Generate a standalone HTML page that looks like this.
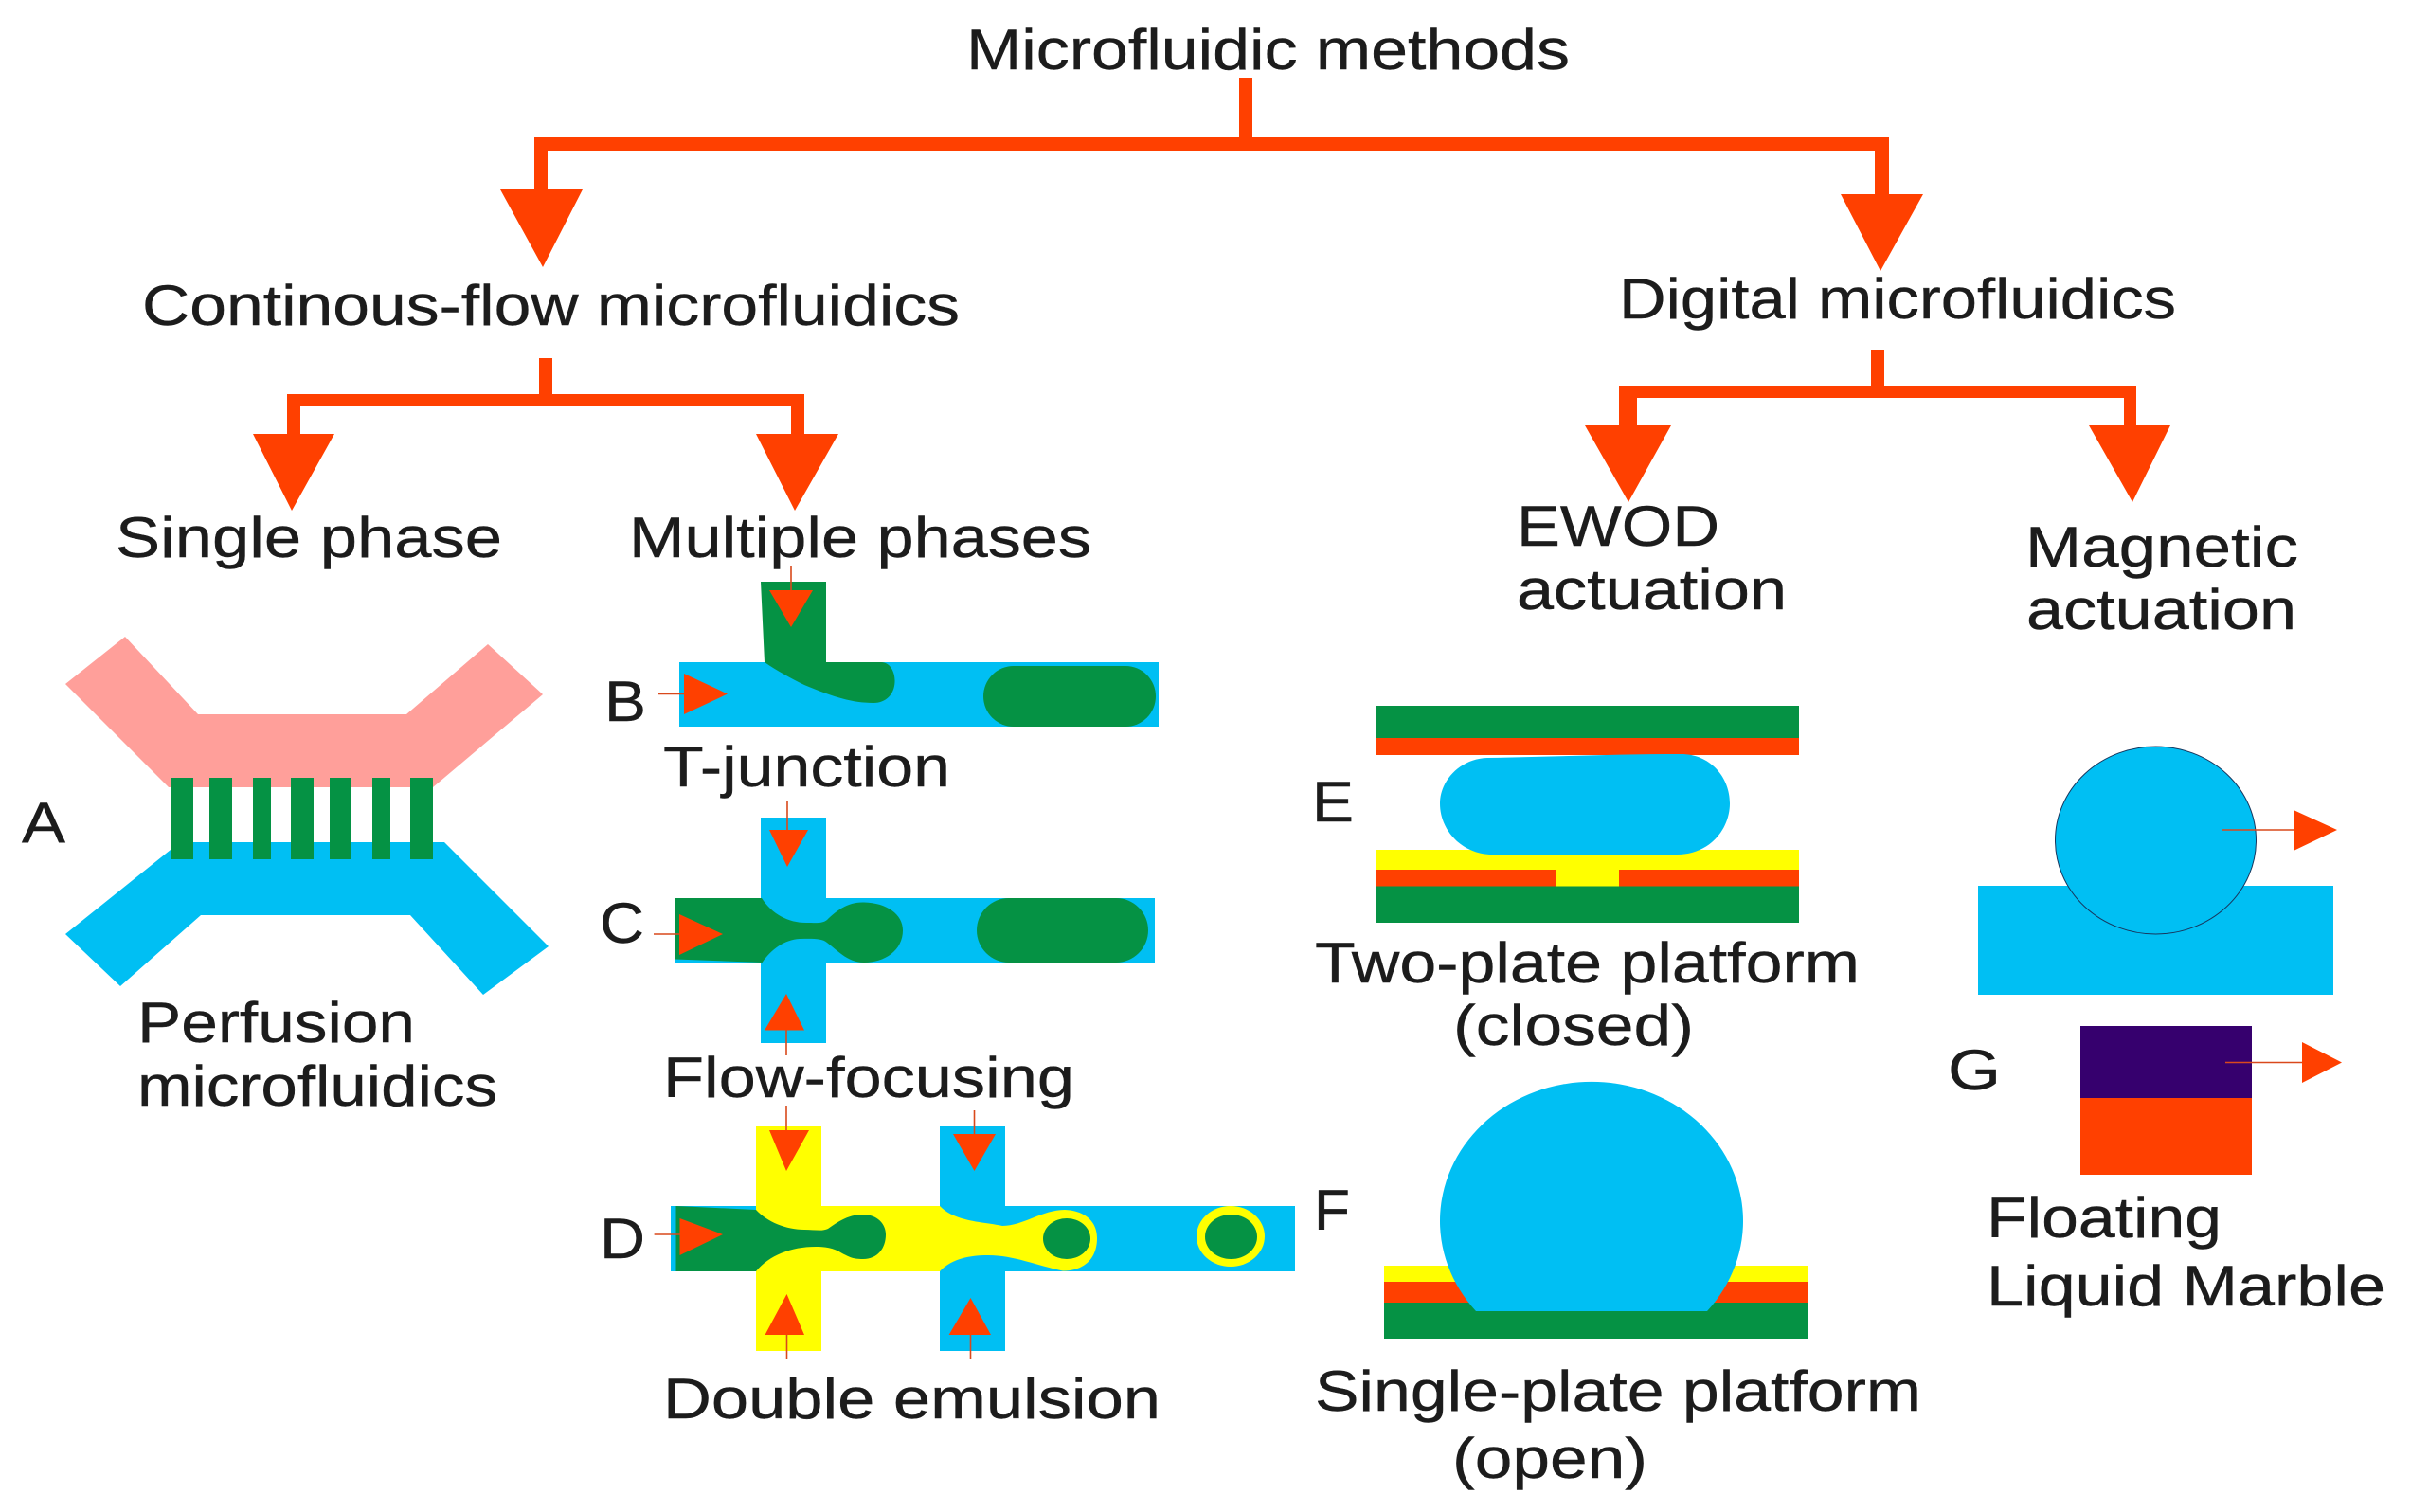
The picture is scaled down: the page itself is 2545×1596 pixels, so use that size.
<!DOCTYPE html>
<html><head><meta charset="utf-8"><title>Microfluidic methods</title>
<style>html,body{margin:0;padding:0;background:#fff}svg{display:block}
text{font-family:"Liberation Sans",Arial,sans-serif;font-size:60px;fill:#1c1c1c;stroke:#1c1c1c;stroke-width:.4px}
.o{fill:#ff4000}.b{fill:#00bff3}.g{fill:#059244}.y{fill:#ffff00}
.l{stroke:#d9491c;stroke-width:1.6;fill:none}</style></head><body>
<svg xmlns="http://www.w3.org/2000/svg" width="2545" height="1596" viewBox="0 0 2545 1596">
<rect width="2545" height="1596" fill="#fff"/>

<!-- tree connectors -->
<g class="o">
<path d="M1308 82H1322V145H1994V205H2030L1985 286L1943 205H1979V159H578V200H615L573 282L528 200H564V145H1308Z"/>
<path d="M569 378H583V416H849V458H885L839 539L798 458H835V429H317V458H353L308 539L267 458H303V416H569Z"/>
<path d="M1975 369H1989V407H2255V449H2291L2251 530L2205 449H2242V420H1728V449H1764L1719 530L1673 449H1709V407H1975Z"/>
</g>

<!-- A -->
<polygon fill="#ff9f9a" points="132,672 209,754 429,754 515,680 573,733 457,831 178,831 69,722"/>
<polygon class="b" points="69,986 180,897 192,889 469,889 579,999 510,1050 433,966 212,966 127,1041"/>
<g class="g"><rect x="181" y="821" width="23" height="86"/><rect x="221" y="821" width="24" height="86"/><rect x="267" y="821" width="19" height="86"/><rect x="307" y="821" width="24" height="86"/><rect x="348" y="821" width="23" height="86"/><rect x="393" y="821" width="19" height="86"/><rect x="433" y="821" width="24" height="86"/></g>

<!-- B -->
<rect class="b" x="717" y="699" width="506" height="68"/>
<path class="g" d="M803 614H872V699H930C940 699 945 710 944.5 720C944 733 935 742 922 742C900 742 880 736 849 723C835 716 820 708 807 699Z"/>
<rect class="g" x="1038" y="703" width="182" height="64" rx="32"/>
<path class="l" d="M835 597V623M695 732.5H722"/>
<polygon class="o" points="812,623 858,623 835,662"/>
<polygon class="o" points="722,711 768,732.5 722,754"/>

<!-- C -->
<rect class="b" x="713" y="948" width="506" height="68"/>
<rect class="b" x="803" y="863" width="69" height="238"/>
<path class="g" d="M713 948H804C815 965 832 974 851 974C862 974 868 975 873 971C884 960 896 952 912 952.5C936 953 953 965 953 982C953 1003 934 1016 912 1016C895 1016 885 1004 873 995C867 990 856 991 844 991C828 992 814 1002 804.5 1016L713 1012.5Z"/>
<rect class="g" x="1031" y="948" width="181" height="68" rx="34"/>
<path class="l" d="M831 846V876M690 986H717M830 1087V1114"/>
<polygon class="o" points="812,876 853,876 831,915"/>
<polygon class="o" points="717,965 763,986 717,1008"/>
<polygon class="o" points="807,1087.5 849,1087.5 830,1049"/>

<!-- D -->
<rect class="b" x="708" y="1273" width="659" height="69"/>
<rect class="y" x="798" y="1189" width="69" height="237"/>
<rect class="y" x="798" y="1273" width="200" height="69"/>
<rect class="b" x="992" y="1189" width="69" height="237"/>
<path class="y" d="M992 1273C1008 1290 1040 1290 1058 1294C1080 1294 1100 1277 1124 1277C1146 1278 1158 1290 1158 1307C1158 1328 1145 1341.5 1122 1341.5C1095 1336 1070 1325 1043 1325C1020 1325 1003 1330 992 1342Z"/>
<path class="g" d="M713.5 1273L798 1277C810 1290 830 1298 849 1298C860 1298 868 1300 874 1297C884 1290 895 1282 911 1282C926 1282 935 1292 935 1303C935 1318 926 1329 911 1329C900 1329 897 1327 889 1323C880 1317 870 1316 861 1316C835 1316 812 1325 798 1342H713.5Z"/>
<ellipse class="g" cx="1126" cy="1307.5" rx="25" ry="21.5"/>
<ellipse class="y" cx="1299" cy="1305" rx="36" ry="32"/>
<ellipse class="g" cx="1299.5" cy="1305.5" rx="27.5" ry="23.5"/>
<path class="l" d="M830 1167V1193M1028.5 1172V1197M690.6 1303H717.5M830.5 1409V1434M1024.5 1409V1434"/>
<polygon class="o" points="812,1193 854,1193 830,1236"/>
<polygon class="o" points="1006,1197 1051,1197 1028.5,1236"/>
<polygon class="o" points="717.5,1286 763,1303 717.5,1325"/>
<polygon class="o" points="807.5,1409 849,1409 830.5,1366"/>
<polygon class="o" points="1001.6,1409 1046,1409 1024.5,1370"/>

<!-- E -->
<rect class="g" x="1452" y="745" width="447" height="34"/>
<rect class="o" x="1452" y="779" width="447" height="18"/>
<rect class="y" x="1452" y="897" width="447" height="39"/>
<rect class="o" x="1452" y="918" width="190" height="18"/>
<rect class="o" x="1709" y="918" width="190" height="18"/>
<rect class="g" x="1452" y="935.5" width="447" height="38.5"/>
<path class="b" d="M1570 800C1640 799 1700 796 1775 796C1805 796 1826 820 1826 848C1826 875 1805 902 1770 902H1575C1545 902 1520 878 1520 848C1520 825 1540 801 1570 800Z"/>

<!-- F -->
<rect class="y" x="1461" y="1336" width="447" height="17"/>
<rect class="o" x="1461" y="1353" width="447" height="22"/>
<rect class="g" x="1461" y="1375" width="447" height="38"/>
<path class="b" d="M1558 1384A160 147 0 1 1 1802 1384Z"/>

<!-- G -->
<rect class="b" x="2088" y="935" width="375" height="115"/>
<ellipse class="b" cx="2275.5" cy="887" rx="106" ry="99" stroke="#17365d" stroke-width="1"/>
<path class="l" d="M2345 876H2421"/>
<polygon class="o" points="2421,855 2467,876 2421,898"/>
<rect x="2196" y="1083" width="181" height="76" fill="#36006e"/>
<rect class="o" x="2196" y="1159" width="181" height="81"/>
<path class="l" d="M2349 1121.5H2430"/>
<polygon class="o" points="2430,1100 2472,1121.5 2430,1143"/>

<!-- labels -->
<text x="1020" y="73" textLength="637" lengthAdjust="spacingAndGlyphs">Microfluidic methods</text>
<text x="150" y="343" textLength="863" lengthAdjust="spacingAndGlyphs">Continous-flow microfluidics</text>
<text x="1709" y="336" textLength="588" lengthAdjust="spacingAndGlyphs">Digital microfluidics</text>
<text x="122" y="588" textLength="408" lengthAdjust="spacingAndGlyphs">Single phase</text>
<text x="664" y="588" textLength="488" lengthAdjust="spacingAndGlyphs">Multiple phases</text>
<text x="1601" y="576" textLength="214" lengthAdjust="spacingAndGlyphs">EWOD</text>
<text x="1601" y="643" textLength="285" lengthAdjust="spacingAndGlyphs">actuation</text>
<text x="2138" y="598" textLength="288" lengthAdjust="spacingAndGlyphs">Magnetic</text>
<text x="2139" y="664" textLength="285" lengthAdjust="spacingAndGlyphs">actuation</text>
<text x="23" y="889" textLength="46" lengthAdjust="spacingAndGlyphs">A</text>
<text x="145" y="1100" textLength="293" lengthAdjust="spacingAndGlyphs">Perfusion</text>
<text x="145" y="1167" textLength="380" lengthAdjust="spacingAndGlyphs">microfluidics</text>
<text x="638" y="761" textLength="44" lengthAdjust="spacingAndGlyphs">B</text>
<text x="700" y="830" textLength="303" lengthAdjust="spacingAndGlyphs">T-junction</text>
<text x="633" y="995" textLength="47" lengthAdjust="spacingAndGlyphs">C</text>
<text x="700" y="1158" textLength="434" lengthAdjust="spacingAndGlyphs">Flow-focusing</text>
<text x="633" y="1328" textLength="48" lengthAdjust="spacingAndGlyphs">D</text>
<text x="700" y="1497" textLength="525" lengthAdjust="spacingAndGlyphs">Double emulsion</text>
<text x="1385" y="867" textLength="44" lengthAdjust="spacingAndGlyphs">E</text>
<text x="1388" y="1037" textLength="575" lengthAdjust="spacingAndGlyphs">Two-plate platform</text>
<text x="1534" y="1103" textLength="254" lengthAdjust="spacingAndGlyphs">(closed)</text>
<text x="1387" y="1298" textLength="38" lengthAdjust="spacingAndGlyphs">F</text>
<text x="1388" y="1489" textLength="640" lengthAdjust="spacingAndGlyphs">Single-plate platform</text>
<text x="1533" y="1560" textLength="206" lengthAdjust="spacingAndGlyphs">(open)</text>
<text x="2056" y="1150" textLength="56" lengthAdjust="spacingAndGlyphs">G</text>
<text x="2097" y="1306" textLength="248" lengthAdjust="spacingAndGlyphs">Floating</text>
<text x="2097" y="1378" textLength="421" lengthAdjust="spacingAndGlyphs">Liquid Marble</text>
</svg>
</body></html>
